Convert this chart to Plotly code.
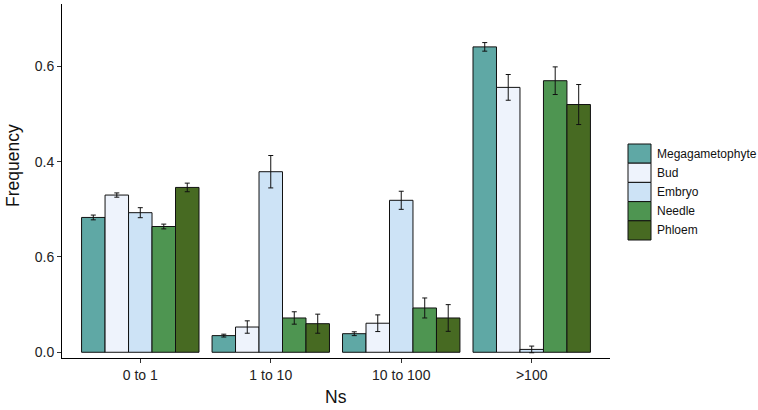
import plotly.graph_objects as go

categories = ["0 to 1", "1 to 10", "10 to 100", ">100"]
series_names = ["Megagametophyte", "Bud", "Embryo", "Needle", "Phloem"]
colors = ["#5FA8A5", "#EEF3FC", "#CDE3F6", "#4E9551", "#476A22"]

megagametophyte = [0.283, 0.035, 0.039, 0.641]
bud = [0.330, 0.053, 0.061, 0.556]
embryo = [0.293, 0.379, 0.319, 0.006]
needle = [0.264, 0.072, 0.093, 0.570]
phloem = [0.346, 0.060, 0.072, 0.520]

megagametophyte_err = [0.005, 0.003, 0.004, 0.009]
bud_err = [0.0045, 0.013, 0.0175, 0.027]
embryo_err = [0.0105, 0.034, 0.019, 0.007]
needle_err = [0.005, 0.013, 0.021, 0.029]
phloem_err = [0.009, 0.020, 0.028, 0.042]

y_tickvals = [0.0, 0.2, 0.4, 0.6]
y_ticktext = ["0.0", "0.6", "0.4", "0.6"]

values = [megagametophyte, bud, embryo, needle, phloem]
errors = [megagametophyte_err, bud_err, embryo_err, needle_err, phloem_err]

FONT = "Liberation Sans, Arial, sans-serif"

fig = go.Figure()
for name, col, vals, errs in zip(series_names, colors, values, errors):
    fig.add_trace(go.Bar(
        x=categories, y=vals, name=name,
        marker=dict(color=col, line=dict(color="#111111", width=1)),
        error_y=dict(type="data", array=errs, visible=True,
                     color="#111111", thickness=1, width=2.5),
        showlegend=False,
    ))

W, H = 758, 410
ml, mr, mt, mb = 62, 148, 4, 52
pw = W - ml - mr
ph = H - mt - mb
def px_to_paper_x(px):
    return (px - ml) / pw
def px_to_paper_y(py):
    return 1 - (py - mt) / ph

# manual legend (ggplot-like keys)
key_x0, key_x1 = 628, 651
key_top = 144
key_h = 19.2
shapes = []
annotations = []
for i, (name, col) in enumerate(zip(series_names, colors)):
    y0 = key_top + i * key_h
    y1 = y0 + key_h
    shapes.append(dict(type="rect", xref="paper", yref="paper",
                       x0=px_to_paper_x(key_x0), x1=px_to_paper_x(key_x1),
                       y0=px_to_paper_y(y1), y1=px_to_paper_y(y0),
                       fillcolor=col, line=dict(color="#111111", width=1)))
    annotations.append(dict(xref="paper", yref="paper",
                            x=px_to_paper_x(655), y=px_to_paper_y((y0 + y1) / 2),
                            text=name, showarrow=False, xanchor="left", yanchor="middle",
                            font=dict(family=FONT, size=12, color="#111111")))

# axis titles
annotations.append(dict(xref="paper", yref="paper",
                        x=px_to_paper_x(336), y=px_to_paper_y(397),
                        text="Ns", showarrow=False, xanchor="center", yanchor="middle",
                        font=dict(family=FONT, size=17.5, color="#111111")))
annotations.append(dict(xref="paper", yref="paper",
                        x=px_to_paper_x(13), y=px_to_paper_y(166),
                        text="Frequency", showarrow=False, textangle=-90,
                        xanchor="center", yanchor="middle",
                        font=dict(family=FONT, size=17.5, color="#111111")))

fig.update_layout(
    width=W, height=H,
    margin=dict(l=ml, r=mr, t=mt, b=mb, autoexpand=False),
    paper_bgcolor="white", plot_bgcolor="white",
    barmode="group", bargap=0.1, bargroupgap=0,
    font=dict(family=FONT, color="#111111"),
    shapes=shapes, annotations=annotations,
    xaxis=dict(
        type="category", range=[-0.6, 3.6], automargin=False,
        showline=True, linecolor="black", linewidth=1,
        ticks="outside", ticklen=4, tickcolor="#333333",
        tickfont=dict(family=FONT, size=14, color="#222222"),
        showgrid=False, zeroline=False,
    ),
    yaxis=dict(
        range=[-0.012, 0.731], automargin=False,
        tickvals=y_tickvals, ticktext=y_ticktext,
        showline=True, linecolor="black", linewidth=1,
        ticks="outside", ticklen=4, tickcolor="#333333",
        tickfont=dict(family=FONT, size=14, color="#222222"),
        showgrid=False, zeroline=False,
    ),
)

fig.write_html("out.html", config={"displayModeBar": False},
               post_script="document.body.style.margin='0';document.body.style.overflow='hidden';")
